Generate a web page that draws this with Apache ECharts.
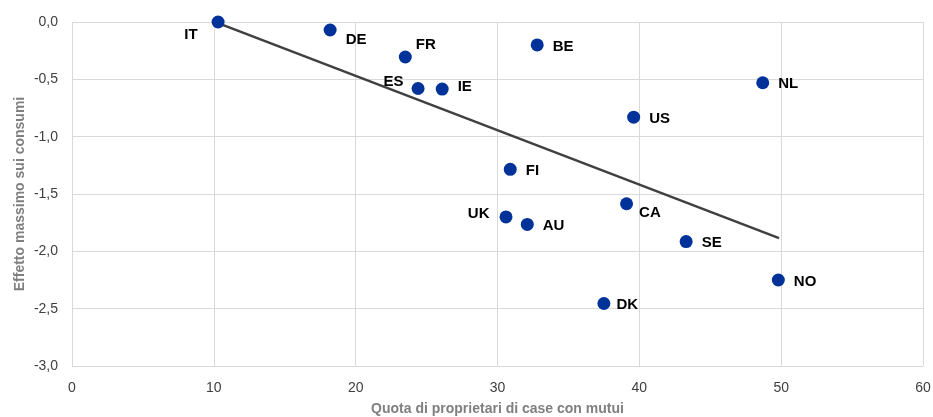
<!DOCTYPE html>
<html>
<head>
<meta charset="utf-8">
<script src="https://cdn.jsdelivr.net/npm/echarts@6/dist/echarts.min.js"></script>
<style>
html,body{margin:0;padding:0;background:#fff;}
#chart{width:933px;height:417px;}
</style>
</head>
<body>
<div id="chart"></div>
<script>
// Data
var countries = ['IT','DE','FR','BE','ES','IE','NL','US','FI','CA','UK','AU','SE','DK','NO'];
var ownersWithMortgage = [10.3, 18.2, 23.5, 32.8, 24.4, 26.1, 48.7, 39.6, 30.9, 39.1, 30.6, 32.1, 43.3, 37.5, 49.8];
var maxConsumptionEffect = [0.0, -0.07, -0.305, -0.2, -0.58, -0.585, -0.53, -0.83, -1.285, -1.585, -1.70, -1.765, -1.915, -2.455, -2.25];
var trendX = [10.3, 49.85];
var trendY = [-0.01, -1.885];
var xTicks = [0, 10, 20, 30, 40, 50, 60];
var yTicks = [0, -0.5, -1, -1.5, -2, -2.5, -3];

// label placement per country (style only)
var labelPos = {
  IT: {position:'left', distance:14, offset:[0,13]},
  DE: {position:'right', distance:9, offset:[0,10]},
  FR: {position:'right', distance:4, offset:[0,-12]},
  ES: {position:'left', distance:8, offset:[0,-7]},
  IE: {position:'right', distance:9, offset:[0,-2]},
  UK: {position:'left', distance:10, offset:[0,-3]},
  CA: {position:'right', distance:6, offset:[0,9]},
  DK: {position:'right', distance:6, offset:[0,1.5]}
};

var points = countries.map(function(c, i){
  var lp = labelPos[c] || {position:'right', distance:9, offset:[0,1.5]};
  return {
    name: c,
    value: [ownersWithMortgage[i], maxConsumptionEffect[i]],
    label: {show:true, formatter: c, position: lp.position, distance: lp.distance, offset: lp.offset,
      color:'#000000', fontWeight:'bold', fontSize:15, fontFamily:'Liberation Sans, Arial'}
  };
});

var chart = echarts.init(document.getElementById('chart'), null, {renderer:'canvas'});
chart.setOption({
  animation: false,
  backgroundColor: '#ffffff',
  grid: {left: 72, right: 10, top: 22, bottom: 51, containLabel: false, outerBoundsMode: 'none'},
  xAxis: {
    type: 'value', min: 0, max: 60, interval: 10,
    name: 'Quota di proprietari di case con mutui',
    nameLocation: 'middle', nameGap: 36, nameMoveOverlap: false,
    nameTextStyle: {color:'#7f7f7f', fontWeight:'bold', fontSize:14, fontFamily:'Liberation Sans, Arial'},
    axisLine: {show: false},
    axisTick: {show: false},
    axisLabel: {color:'#404040', fontSize:14, margin:15, fontFamily:'Liberation Sans, Arial',
      formatter: function(v){ return String(v); }},
    splitLine: {show: true, lineStyle: {color:'#d9d9d9', width:1}}
  },
  yAxis: {
    type: 'value', min: -3, max: 0, interval: 0.5,
    name: 'Effetto massimo sui consumi',
    nameLocation: 'middle', nameGap: 45, nameRotate: 90, nameMoveOverlap: false,
    nameTextStyle: {color:'#7f7f7f', fontWeight:'bold', fontSize:14, fontFamily:'Liberation Sans, Arial'},
    axisLine: {show: false},
    axisTick: {show: false},
    axisLabel: {color:'#404040', fontSize:14, margin:14, fontFamily:'Liberation Sans, Arial',
      formatter: function(v){ return v.toFixed(1).replace('.', ','); }},
    splitLine: {show: true, lineStyle: {color:'#d9d9d9', width:1}}
  },
  series: [
    {
      type: 'line',
      data: trendX.map(function(x, i){ return [x, trendY[i]]; }),
      symbol: 'none',
      lineStyle: {color:'#404040', width:2.5},
      z: 2,
      silent: true
    },
    {
      type: 'scatter',
      data: points,
      symbolSize: 13,
      itemStyle: {color:'#003299', opacity: 1},
      z: 3
    }
  ]
});
</script>
</body>
</html>
